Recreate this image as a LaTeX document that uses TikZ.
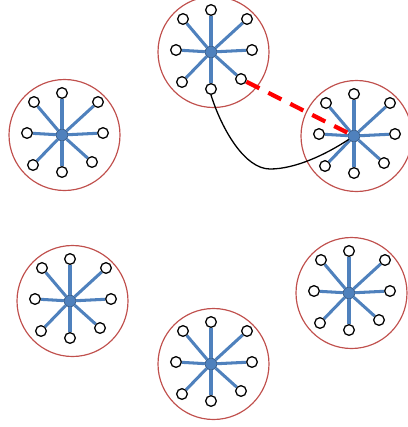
\documentclass[tikz,border=0pt]{standalone}
\usepackage{tikz}
\definecolor{spokeblue}{RGB}{79,129,189}
\definecolor{hubedge}{RGB}{56,93,138}
\definecolor{ringred}{RGB}{192,80,77}

\begin{document}
\begin{tikzpicture}
[
x=0.3mm,y=-0.3mm,
ring/.style={draw=ringred,line width=1pt},
hub/.style={draw=hubedge,fill=spokeblue,circle,inner sep=0pt,minimum size=3.5mm,line width=0.6pt},
leaf/.style={draw=black,fill=white,circle,inner sep=0pt,minimum size=3.2mm,line width=1.1pt},
spoke/.style={draw=spokeblue,line width=2.6pt},
link/.style={draw=red,line width=3.6pt,dash pattern=on 12.5pt off 8.5pt},
wire/.style={draw=black,line width=1.1pt},
]
\useasboundingbox (0,0) rectangle (408,427);

%Place the clusters
\foreach \c/\x/\y in {t/211/52, l/62/135, r/354/136, bl/70/301, bm/211/364, br/349/293}
{
  \draw[ring] (\x+2.5,\y) circle[radius=55.5];
  \node[hub] (\c-hub) at (\x,\y) {};
  \foreach \i/\dx/\dy in {1/0/-42, 2/-28/-33, 3/36/-33, 4/-35/-2, 5/41/-2, 6/-29/30, 7/30/27, 8/0/37}
  {
    \node[leaf] (\c-\i) at (\x+\dx,\y+\dy) {};
    \draw[spoke] (\c-hub) -- (\c-\i);
  }
}

%Draw the connections
\coordinate (dip) at (270,169);
\draw[link] (t-7) -- (r-hub);
\draw[wire] (t-8.south) .. controls (222,130) and (245,169) .. (dip)
  .. controls (295,169) and (325,155) .. (r-hub);
\end{tikzpicture}
\end{document}
